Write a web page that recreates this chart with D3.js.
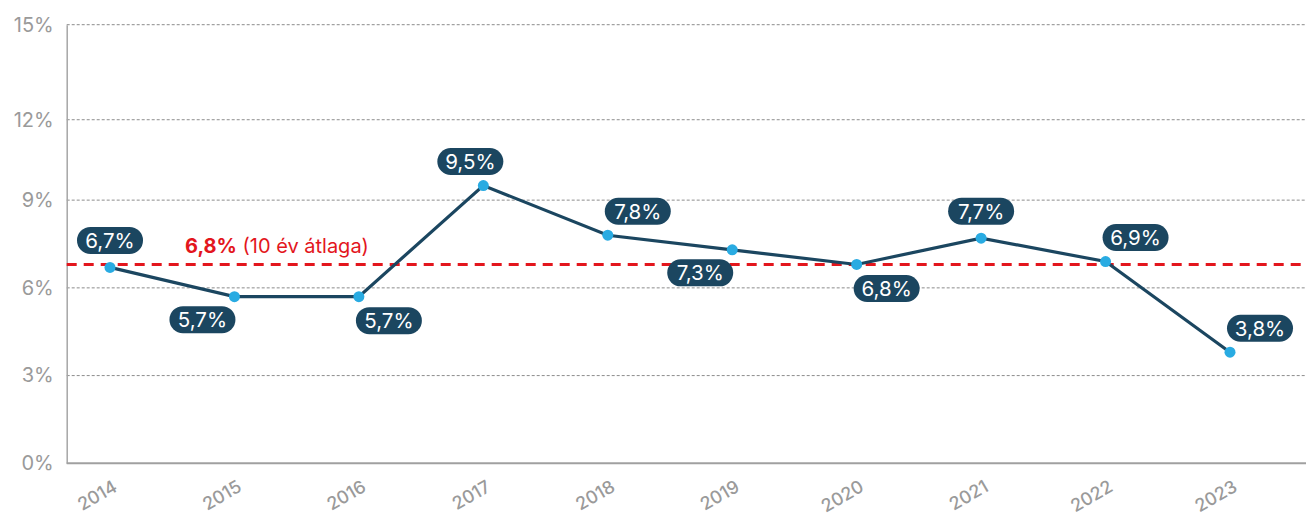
<!DOCTYPE html>
<html><head><meta charset="utf-8">
<script src="https://cdn.jsdelivr.net/npm/d3@7/dist/d3.min.js"></script>
<style>body{margin:0;background:#fff;}svg{display:block;font-family:Inter,"Noto Sans",sans-serif;}</style>
</head><body><svg id="c" width="1306" height="516"></svg>
<script>
const years = ["2014","2015","2016","2017","2018","2019","2020","2021","2022","2023"];
const values = [6.7, 5.7, 5.7, 9.5, 7.8, 7.3, 6.8, 7.7, 6.9, 3.8];
const labelPlacement = ["above","below-left","below-right","above-left","above-right","below-left","below-right","above","above-right","above-right"];
const average = 6.8;
const averageLabelBold = "6,8%";
const averageLabelRest = " (10 év átlaga)";
const yTickValues = [0, 3, 6, 9, 11.75, 15];
const yTickLabels = ["0%", "3%", "6%", "9%", "12%", "15%"];

(function () {
const svg = d3.select("#c");
const mLeft = 66.7, mRight = 1306, mTop = 24.7, mBottom = 463.3;
const x = d3.scalePoint().domain(years).range([110, 1230]);
const y = d3.scaleLinear().domain([0, 15]).range([mBottom, mTop]);
const fmt = v => v.toFixed(1).replace(".", ",") + "%";

// grid
svg.append("g").selectAll("line").data(yTickValues.filter(v => v > 0)).join("line")
  .attr("x1", mLeft).attr("x2", mRight).attr("y1", d => y(d)).attr("y2", d => y(d))
  .attr("stroke", "#8c8c8c").attr("stroke-width", 1).attr("stroke-dasharray", "3,2");

// y axis
const yAxis = svg.append("g").attr("transform", `translate(${mLeft},0)`)
  .call(d3.axisLeft(y).tickValues(yTickValues).tickFormat((d, i) => yTickLabels[i]).tickSize(0).tickPadding(13));
yAxis.select(".domain").attr("stroke", "#a6a6a6").attr("stroke-width", 1.5);
yAxis.selectAll("text").attr("fill", "#9a9a9a").attr("font-size", 20).attr("font-family", "Inter");

// x axis
const xAxis = svg.append("g").attr("transform", `translate(0,${mBottom})`)
  .call(d3.axisBottom(x).tickSize(0).tickPadding(0));
xAxis.select(".domain").remove();
svg.append("line").attr("x1", mLeft).attr("x2", mRight).attr("y1", mBottom).attr("y2", mBottom)
  .attr("stroke", "#a0a0a0").attr("stroke-width", 2);
xAxis.selectAll("text").attr("fill", "#9a9a9a").attr("font-size", 18).attr("font-weight", 500)
  .attr("font-family", "Inter")
  .attr("text-anchor", "end").attr("dy", 0)
  .attr("transform", "translate(8,27) rotate(-30)");

// average line
svg.append("line").attr("x1", mLeft).attr("x2", mRight).attr("y1", y(average)).attr("y2", y(average))
  .attr("stroke", "#e3161d").attr("stroke-width", 3).attr("stroke-dasharray", "10,7");
const avgT = svg.append("text").attr("x", 185).attr("y", y(average) - 11).attr("font-size", 20).attr("fill", "#e3161d");
avgT.append("tspan").attr("font-weight", 700).text(averageLabelBold);
avgT.append("tspan").attr("font-weight", 400).text(averageLabelRest);

// line
const data = years.map((yr, i) => ({yr, v: values[i], p: labelPlacement[i]}));
svg.append("path").datum(data)
  .attr("d", d3.line().x(d => x(d.yr)).y(d => y(d.v)))
  .attr("fill", "none").attr("stroke", "#1b4660").attr("stroke-width", 3.2);
svg.append("g").selectAll("circle").data(data).join("circle")
  .attr("cx", d => x(d.yr)).attr("cy", d => y(d.v)).attr("r", 5.5).attr("fill", "#29abe2");

// labels
const off = {
  "above": [0, -27], "above-left": [-13, -24], "above-right": [30, -24],
  "below-left": [-32, 23], "below-right": [30, 24]
};
const lg = svg.append("g").selectAll("g").data(data).join("g")
  .attr("transform", d => `translate(${x(d.yr) + off[d.p][0]},${y(d.v) + off[d.p][1]})`);
lg.append("rect").attr("x", -33).attr("y", -13.5).attr("width", 66).attr("height", 27).attr("rx", 13.5)
  .attr("fill", "#1b4660");
lg.append("text").attr("text-anchor", "middle").attr("dy", "0.36em").attr("fill", "#fff")
  .attr("font-size", 20.5).attr("font-weight", 400).text(d => fmt(d.v));
})();
</script></body></html>
